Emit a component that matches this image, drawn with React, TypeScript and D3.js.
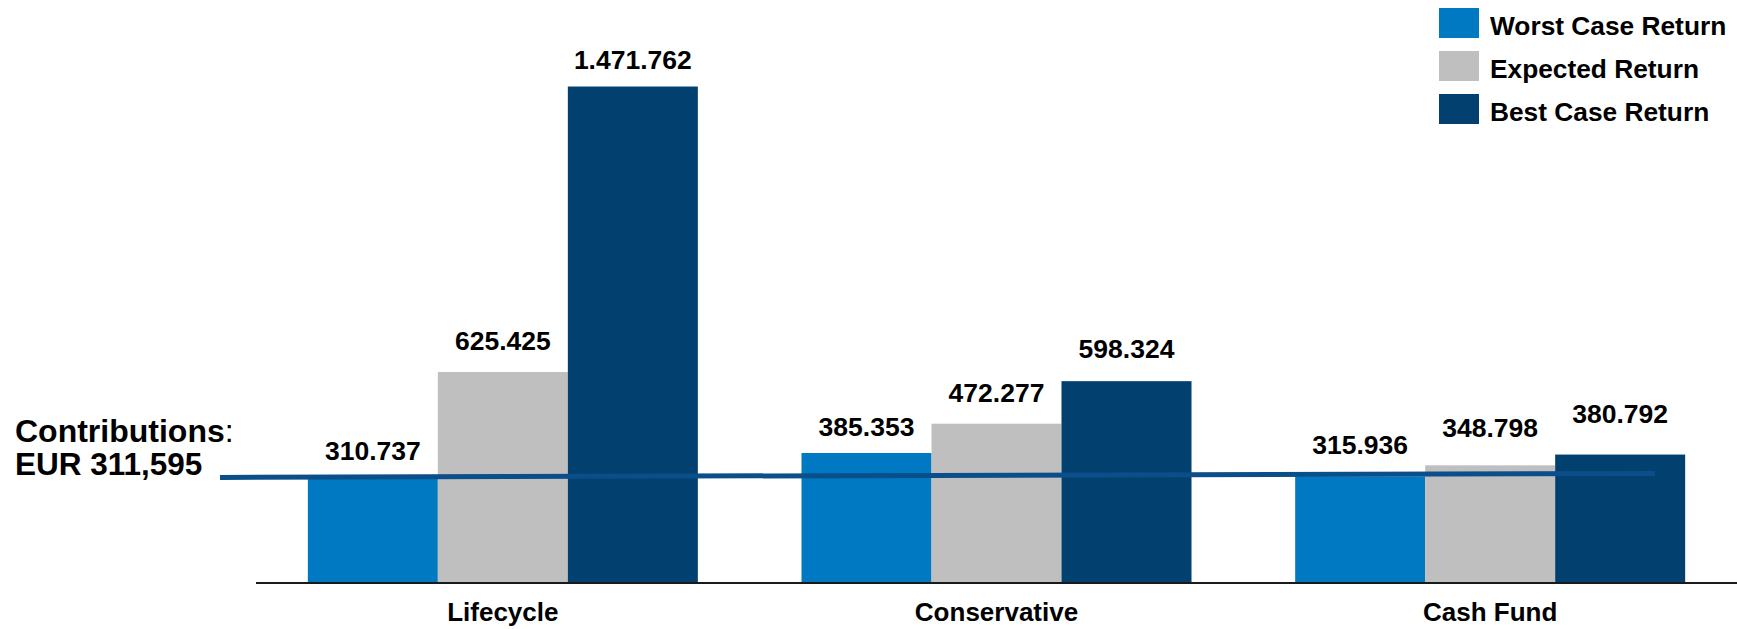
import React from "react";
import * as d3 from "d3";

const categories = ["Lifecycle", "Conservative", "Cash Fund"];
const seriesNames = ["Worst Case Return", "Expected Return", "Best Case Return"];
const worstCase = [310737, 385353, 315936];
const expected = [625425, 472277, 348798];
const bestCase = [1471762, 598324, 380792];
const contributions = 311595;
const contributionsLabel = ["Contributions", "EUR 311,595"];

// layout-only: label distance above bar top (px) per category/series
const labelGap = [
  [18, 22, 18],
  [17, 22, 23],
  [22, 28, 32],
];

const colors = ["#0079C2", "#BFBFBF", "#024070"];
const W = 1737;
const H = 629;
const FONT = "'Liberation Sans', Arial, sans-serif";

const fmt = (v: number) => d3.format(",")(v).replace(/,/g, ".");

export default function App() {
  const series = [worstCase, expected, bestCase];
  const x0 = d3
    .scaleBand<string>()
    .domain(categories)
    .range([256, 1737])
    .paddingInner(0.21)
    .paddingOuter(0.105);
  const x1 = d3
    .scaleBand<string>()
    .domain(seriesNames)
    .range([0, x0.bandwidth()]);
  const y = d3.scaleLinear().domain([0, 1500000]).range([583, 77]);

  const lineY = y(contributions);
  const lineX0 = 220;
  const lineX1 = 1655;
  const tilt = 4;

  return (
    <svg
      width={W}
      height={H}
      style={{ position: "absolute", left: 0, top: 0, background: "#fff" }}
      fontFamily={FONT}
    >
      {categories.map((c, ci) => (
        <g key={c} transform={`translate(${x0(c)},0)`}>
          {seriesNames.map((s, si) => {
            const v = series[si][ci];
            return (
              <rect
                key={s}
                x={x1(s)}
                y={y(v)}
                width={x1.bandwidth()}
                height={y(0) - y(v)}
                fill={colors[si]}
              />
            );
          })}
        </g>
      ))}

      {/* contributions line */}
      <line
        x1={lineX0}
        x2={lineX1}
        y1={lineY - 0.5}
        y2={lineY - 0.5 - tilt}
        stroke="#0A4E8A"
        strokeWidth={5}
      />

      {/* value labels */}
      {categories.map((c, ci) =>
        seriesNames.map((s, si) => {
          const v = series[si][ci];
          return (
            <text
              key={c + s}
              x={(x0(c) ?? 0) + (x1(s) ?? 0) + x1.bandwidth() / 2}
              y={y(v) - labelGap[ci][si]}
              textAnchor="middle"
              fontSize={26.5}
              fontWeight="bold"
              fill="#000"
            >
              {fmt(v)}
            </text>
          );
        })
      )}

      {/* axis */}
      <line x1={256} x2={1737} y1={583} y2={583} stroke="#1a1a1a" strokeWidth={2} />
      {categories.map((c) => (
        <text
          key={c}
          x={(x0(c) ?? 0) + x0.bandwidth() / 2}
          y={621}
          textAnchor="middle"
          fontSize={26}
          fontWeight="bold"
          fill="#000"
        >
          {c}
        </text>
      ))}

      {/* contributions label */}
      <text x={15} y={442} fontSize={32} fill="#000">
        <tspan fontWeight="bold">{contributionsLabel[0]}</tspan>
        <tspan>:</tspan>
      </text>
      <text x={15} y={475} fontSize={31.5} fontWeight="bold" fill="#000">
        {contributionsLabel[1]}
      </text>

      {/* legend */}
      {seriesNames.map((s, i) => (
        <g key={s} transform={`translate(1439,${8 + i * 43})`}>
          <rect width={40} height={30} fill={colors[i]} />
          <text x={51} y={27} fontSize={26.3} fontWeight="bold" fill="#000">
            {s}
          </text>
        </g>
      ))}
    </svg>
  );
}
